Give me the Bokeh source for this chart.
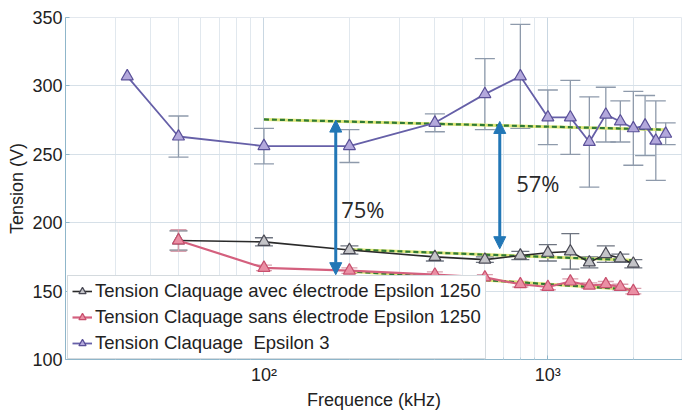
from bokeh.plotting import figure
from bokeh.models import (ColumnDataSource, FixedTicker, Whisker, TeeHead, Arrow,
                          NormalHead, Legend, LegendItem, Range1d)
from bokeh.core.properties import value
from bokeh.embed import file_html
from bokeh.resources import INLINE

# ---------------- data ----------------
freq_eps3 = [33, 50, 100, 200, 400, 600, 800, 1000, 1200, 1400, 1600, 1800, 2000, 2200, 2400, 2600]
tension_eps3 = [307, 263, 256, 256, 273, 294, 307, 277, 277, 259, 279, 274, 269, 271, 260, 265]
err_eps3 = [0, 15, 13, 12, 6.5, 26, 38, 20, 27, 33, 20, 15, 27, 22, 29, 8]

freq_1250 = [50, 100, 200, 400, 600, 800, 1000, 1200, 1400, 1600, 1800, 2000]
tension_avec = [187, 186, 180, 175, 173, 176, 178, 179, 171, 177, 174, 170]
err_avec = [7, 3, 3, 3, 2, 3, 6, 13, 4, 6, 3, 3]
tension_sans = [187, 167, 165, 162, 160, 155, 153, 157, 154, 155, 153, 150]
err_sans = [8, 2, 2, 2, 2, 2, 2, 2, 2, 2, 2, 2]

trend_x = [[100, 2600], [200, 2000], [200, 2000]]
trend_y = [[275.5, 268], [180.5, 172.5], [164.5, 151]]

arrow_freq = [179, 677]
arrow_top = [275, 274]
arrow_bottom = [162, 181]
gain_labels = ["75%", "57%"]
label_freq = [223, 922]
label_tension = [210, 229]

legend_labels = ["Tension Claquage avec électrode Epsilon 1250",
                 "Tension Claquage sans électrode Epsilon 1250",
                 "Tension Claquage  Epsilon 3"]

x_major = [100, 1000]
x_minor = [20, 30, 40, 50, 60, 70, 80, 90, 200, 300, 400, 500, 600, 700, 800, 900, 2000]
x_tick_labels = {100: "10²", 1000: "10³"}
y_ticks = [100, 150, 200, 250, 300, 350]

# ---------------- figure ----------------
p = figure(width=682, height=412, x_axis_type="log",
           x_range=Range1d(20, 2980), y_range=Range1d(100, 350),
           output_backend="svg", toolbar_location=None,
           min_border_left=65, min_border_right=0, min_border_top=17, min_border_bottom=50)
p.background_fill_color = "white"
p.border_fill_color = "white"
p.outline_line_color = "#e3e8ee"

xt = FixedTicker(ticks=x_major, minor_ticks=x_minor)
p.xaxis.ticker = xt
p.xgrid.ticker = xt
p.xaxis.major_label_overrides = x_tick_labels
p.yaxis.ticker = FixedTicker(ticks=y_ticks)

for ax in (p.xaxis, p.yaxis):
    ax.axis_line_color = "#8fb6ca"
    ax.major_tick_line_color = "#8fb6ca"
    ax.minor_tick_line_color = "#b9cfdb"
    ax.major_tick_in = 4
    ax.major_tick_out = 0
    ax.minor_tick_in = 2
    ax.minor_tick_out = 0
    ax.major_label_text_font = "Liberation Sans"
    ax.major_label_text_font_size = "18px"
    ax.major_label_text_color = "#222222"
    ax.axis_label_text_font = "Liberation Sans"
    ax.axis_label_text_font_size = "18px"
    ax.axis_label_text_font_style = "normal"
    ax.axis_label_text_color = "#222222"
    ax.axis_label_standoff = 2
    ax.major_label_standoff = 3

p.xaxis.axis_label = "Frequence (kHz)"
p.yaxis.axis_label = "Tension (V)"
p.xaxis.axis_label_standoff = 2
p.xaxis.major_label_standoff = 5

p.xgrid.grid_line_color = "#c9d7e2"
p.xgrid.minor_grid_line_color = "#e1e8ee"
p.ygrid.grid_line_color = "#d6e0e8"

# ---------------- trend lines ----------------
for tx, ty in zip(trend_x, trend_y):
    p.line(tx, ty, line_color="#dfe77a", line_width=3)
    p.line(tx, ty, line_color="#2f7a34", line_width=2.2, line_dash="5 3")

# ---------------- error bars ----------------
def add_whisker(xs, ys, es, color, head):
    xx = [x for x, e in zip(xs, es) if e > 0]
    up = [y + e for y, e in zip(ys, es) if e > 0]
    lo = [y - e for y, e in zip(ys, es) if e > 0]
    src = ColumnDataSource(dict(x=xx, upper=up, lower=lo))
    w = Whisker(base="x", upper="upper", lower="lower", source=src, dimension="height",
                line_color=color, line_width=1.3, level="underlay",
                upper_head=TeeHead(size=head, line_color=color, line_width=1.3),
                lower_head=TeeHead(size=head, line_color=color, line_width=1.3))
    p.add_layout(w)

add_whisker(freq_eps3, tension_eps3, err_eps3, "#8e9aab", 20)
add_whisker(freq_1250, tension_avec, err_avec, "#6e7480", 18)
add_whisker(freq_1250, tension_sans, err_sans, "#d9a0ae", 16)

# ---------------- series ----------------
l_avec = p.line(freq_1250, tension_avec, line_color="#2a2a2a", line_width=1.6)
m_avec = p.scatter(freq_1250, tension_avec, marker="triangle", size=12,
                   fill_color="#c4c4c8", line_color="#4a4a55", line_width=1.2)

l_sans = p.line(freq_1250, tension_sans, line_color="#d4607e", line_width=2.2)
m_sans = p.scatter(freq_1250, tension_sans, marker="triangle", size=12,
                   fill_color="#ea8fa4", line_color="#c8506e", line_width=1.2)

l_eps3 = p.line(freq_eps3, tension_eps3, line_color="#6660a8", line_width=1.8)
m_eps3 = p.scatter(freq_eps3, tension_eps3, marker="triangle", size=12,
                   fill_color="#b3a8dc", line_color="#5a5098", line_width=1.2)

# ---------------- arrows ----------------
arrow_src = ColumnDataSource(dict(x=arrow_freq, y0=arrow_bottom, y1=arrow_top))
p.add_layout(Arrow(x_start="x", y_start="y0", x_end="x", y_end="y1", source=arrow_src,
                   line_color="#2277b6", line_width=3,
                   start=NormalHead(size=12, fill_color="#2277b6", line_color="#2277b6"),
                   end=NormalHead(size=12, fill_color="#2277b6", line_color="#2277b6")))

p.text(x=label_freq, y=label_tension, text=gain_labels,
       text_font=value("Open Sans"), text_font_size="22px", text_color="#2a2a2a",
       text_align="center", text_baseline="middle")

# ---------------- legend ----------------
legend = Legend(items=[LegendItem(label=legend_labels[0], renderers=[l_avec, m_avec]),
                       LegendItem(label=legend_labels[1], renderers=[l_sans, m_sans]),
                       LegendItem(label=legend_labels[2], renderers=[l_eps3, m_eps3])],
                location=(2, 0))
legend.label_text_font = "Liberation Sans"
legend.label_text_font_size = "18.5px"
legend.label_text_color = "#222222"
legend.glyph_width = 20
legend.glyph_height = 18
legend.label_height = 18
legend.label_standoff = 3
legend.padding = 4
legend.spacing = 4
legend.margin = 0
legend.border_line_color = "#a9b5be"
legend.background_fill_color = "white"
legend.background_fill_alpha = 1
p.add_layout(legend)

open("out.html", "w").write(file_html(p, INLINE))
